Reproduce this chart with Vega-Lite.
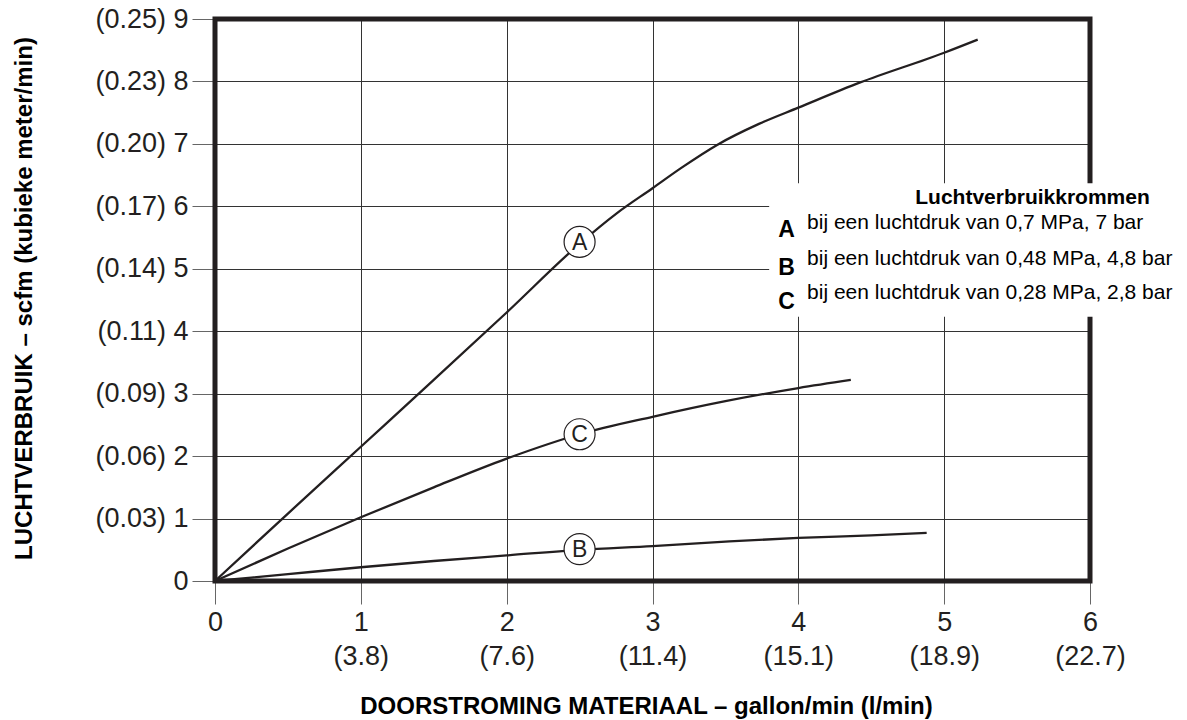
{
  "$schema": "https://vega.github.io/schema/vega-lite/v6.json",
  "autosize": "none",
  "width": 875,
  "height": 562,
  "padding": {"left": 215, "top": 19, "right": 97, "bottom": 139},
  "background": "white",
  "config": {
    "view": {"stroke": null},
    "font": "Liberation Sans",
    "text": {"font": "Liberation Sans"}
  },
  "datasets": {
    "curves": [
      {"curve": "A", "gpm": 0, "scfm": 0},
      {"curve": "A", "gpm": 0.5, "scfm": 1.08},
      {"curve": "A", "gpm": 1, "scfm": 2.15},
      {"curve": "A", "gpm": 1.5, "scfm": 3.22},
      {"curve": "A", "gpm": 2, "scfm": 4.3},
      {"curve": "A", "gpm": 2.5, "scfm": 5.4},
      {"curve": "A", "gpm": 2.75, "scfm": 5.88},
      {"curve": "A", "gpm": 3, "scfm": 6.29},
      {"curve": "A", "gpm": 3.2, "scfm": 6.62},
      {"curve": "A", "gpm": 3.44, "scfm": 6.98},
      {"curve": "A", "gpm": 3.73, "scfm": 7.32},
      {"curve": "A", "gpm": 4, "scfm": 7.58},
      {"curve": "A", "gpm": 4.42, "scfm": 7.98},
      {"curve": "A", "gpm": 5, "scfm": 8.46},
      {"curve": "A", "gpm": 5.23, "scfm": 8.67},
      {"curve": "C", "gpm": 0, "scfm": 0},
      {"curve": "C", "gpm": 0.5, "scfm": 0.52},
      {"curve": "C", "gpm": 1, "scfm": 1.02},
      {"curve": "C", "gpm": 1.5, "scfm": 1.5},
      {"curve": "C", "gpm": 2, "scfm": 1.96},
      {"curve": "C", "gpm": 2.5, "scfm": 2.35},
      {"curve": "C", "gpm": 3, "scfm": 2.63},
      {"curve": "C", "gpm": 3.5, "scfm": 2.88},
      {"curve": "C", "gpm": 4, "scfm": 3.09},
      {"curve": "C", "gpm": 4.36, "scfm": 3.22},
      {"curve": "B", "gpm": 0, "scfm": 0},
      {"curve": "B", "gpm": 0.5, "scfm": 0.11},
      {"curve": "B", "gpm": 1, "scfm": 0.22},
      {"curve": "B", "gpm": 1.5, "scfm": 0.32},
      {"curve": "B", "gpm": 2, "scfm": 0.41},
      {"curve": "B", "gpm": 2.5, "scfm": 0.5},
      {"curve": "B", "gpm": 3, "scfm": 0.56},
      {"curve": "B", "gpm": 3.5, "scfm": 0.63},
      {"curve": "B", "gpm": 4, "scfm": 0.69},
      {"curve": "B", "gpm": 4.5, "scfm": 0.73},
      {"curve": "B", "gpm": 4.88, "scfm": 0.77}
    ],
    "markers": [
      {"curve": "A", "gpm": 2.5, "scfm": 5.43},
      {"curve": "C", "gpm": 2.5, "scfm": 2.35},
      {"curve": "B", "gpm": 2.5, "scfm": 0.51}
    ],
    "frame": [{"gpm": 0, "gpm_end": 6, "scfm": 0, "scfm_end": 9}],
    "legendbox": [{"gpm": 3.8, "gpm_end": 6.7, "scfm": 4.23, "scfm_end": 6.37}],
    "legendtitle": [{"label": "Luchtverbruikkrommen", "gpm": 6.41, "scfm": 6.13}],
    "legendletters": [
      {"label": "A", "gpm": 3.92, "scfm": 5.62},
      {"label": "B", "gpm": 3.92, "scfm": 5.01},
      {"label": "C", "gpm": 3.92, "scfm": 4.47}
    ],
    "legendtexts": [
      {"label": "bij een luchtdruk van 0,7 MPa, 7 bar", "gpm": 4.06, "scfm": 5.73},
      {"label": "bij een luchtdruk van 0,48 MPa, 4,8 bar", "gpm": 4.06, "scfm": 5.16},
      {"label": "bij een luchtdruk van 0,28 MPa, 2,8 bar", "gpm": 4.06, "scfm": 4.61}
    ]
  },
  "layer": [
    {
      "data": {"name": "curves"},
      "mark": {"type": "line", "interpolate": "monotone", "color": "#231f20", "strokeWidth": 2.3},
      "encoding": {
        "x": {
          "field": "gpm", "type": "quantitative",
          "scale": {"domain": [0, 6], "nice": false, "zero": true},
          "axis": {
            "values": [0, 1, 2, 3, 4, 5, 6],
            "domain": false,
            "grid": true, "gridColor": "#333333", "gridWidth": 1, "gridOpacity": 1,
            "ticks": true, "tickSize": 23, "tickColor": "#666666", "tickWidth": 1,
            "labelFont": "Liberation Sans", "labelFontSize": 27, "labelColor": "#231f20",
            "labelPadding": 5, "labelLineHeight": 34, "labelFlush": false, "labelOverlap": false,
            "labelExpr": "datum.value == 0 ? '0' : [format(datum.value, 'd'), '(' + ['', '3.8', '7.6', '11.4', '15.1', '18.9', '22.7'][datum.value] + ')']",
            "title": "DOORSTROMING MATERIAAL – gallon/min (l/min)",
            "titleFont": "Liberation Sans", "titleFontSize": 24, "titleFontWeight": "bold", "titleColor": "#000000",
            "titleBaseline": "middle", "titleAlign": "center", "titleY": 125, "titleX": 431
          }
        },
        "y": {
          "field": "scfm", "type": "quantitative",
          "scale": {"domain": [0, 9], "nice": false, "zero": true},
          "axis": {
            "values": [0, 1, 2, 3, 4, 5, 6, 7, 8, 9],
            "domain": false,
            "grid": true, "gridColor": "#333333", "gridWidth": 1, "gridOpacity": 1,
            "ticks": true, "tickSize": 23, "tickColor": "#666666", "tickWidth": 1,
            "labelFont": "Liberation Sans", "labelFontSize": 27, "labelColor": "#231f20",
            "labelPadding": 4, "labelFlush": false, "labelOverlap": false,
            "labelExpr": "datum.value == 0 ? '0' : '(' + ['', '0.03', '0.06', '0.09', '0.11', '0.14', '0.17', '0.20', '0.23', '0.25'][datum.value] + ') ' + datum.value",
            "title": "LUCHTVERBRUIK – scfm (kubieke meter/min)",
            "titleFont": "Liberation Sans", "titleFontSize": 24, "titleFontWeight": "bold", "titleColor": "#000000",
            "titleAngle": -90, "titleAlign": "center", "titleBaseline": "middle",
            "titleX": -191, "titleY": 279
          }
        },
        "detail": {"field": "curve"}
      }
    },
    {
      "data": {"name": "frame"},
      "mark": {"type": "rect", "fill": null, "fillOpacity": 0, "stroke": "#231f20", "strokeWidth": 5},
      "encoding": {
        "x": {"field": "gpm", "type": "quantitative"},
        "x2": {"field": "gpm_end"},
        "y": {"field": "scfm", "type": "quantitative"},
        "y2": {"field": "scfm_end"}
      }
    },
    {
      "data": {"name": "legendbox"},
      "mark": {"type": "rect", "fill": "white", "stroke": null},
      "encoding": {
        "x": {"field": "gpm", "type": "quantitative"},
        "x2": {"field": "gpm_end"},
        "y": {"field": "scfm", "type": "quantitative"},
        "y2": {"field": "scfm_end"}
      }
    },
    {
      "data": {"name": "legendtitle"},
      "mark": {"type": "text", "align": "right", "baseline": "middle", "fontSize": 21, "fontWeight": "bold", "color": "#000000"},
      "encoding": {
        "x": {"field": "gpm", "type": "quantitative"},
        "y": {"field": "scfm", "type": "quantitative"},
        "text": {"field": "label"}
      }
    },
    {
      "data": {"name": "legendletters"},
      "mark": {"type": "text", "align": "center", "baseline": "middle", "fontSize": 23, "fontWeight": "bold", "color": "#000000"},
      "encoding": {
        "x": {"field": "gpm", "type": "quantitative"},
        "y": {"field": "scfm", "type": "quantitative"},
        "text": {"field": "label"}
      }
    },
    {
      "data": {"name": "legendtexts"},
      "mark": {"type": "text", "align": "left", "baseline": "middle", "fontSize": 21, "color": "#000000"},
      "encoding": {
        "x": {"field": "gpm", "type": "quantitative"},
        "y": {"field": "scfm", "type": "quantitative"},
        "text": {"field": "label"}
      }
    },
    {
      "data": {"name": "markers"},
      "mark": {"type": "point", "shape": "circle", "filled": true, "fill": "white", "stroke": "#231f20", "strokeWidth": 1.2, "size": 960, "opacity": 1},
      "encoding": {
        "x": {"field": "gpm", "type": "quantitative"},
        "y": {"field": "scfm", "type": "quantitative"}
      }
    },
    {
      "data": {"name": "markers"},
      "mark": {"type": "text", "align": "center", "baseline": "middle", "fontSize": 23, "color": "#231f20", "dy": 1},
      "encoding": {
        "x": {"field": "gpm", "type": "quantitative"},
        "y": {"field": "scfm", "type": "quantitative"},
        "text": {"field": "curve"}
      }
    }
  ]
}
